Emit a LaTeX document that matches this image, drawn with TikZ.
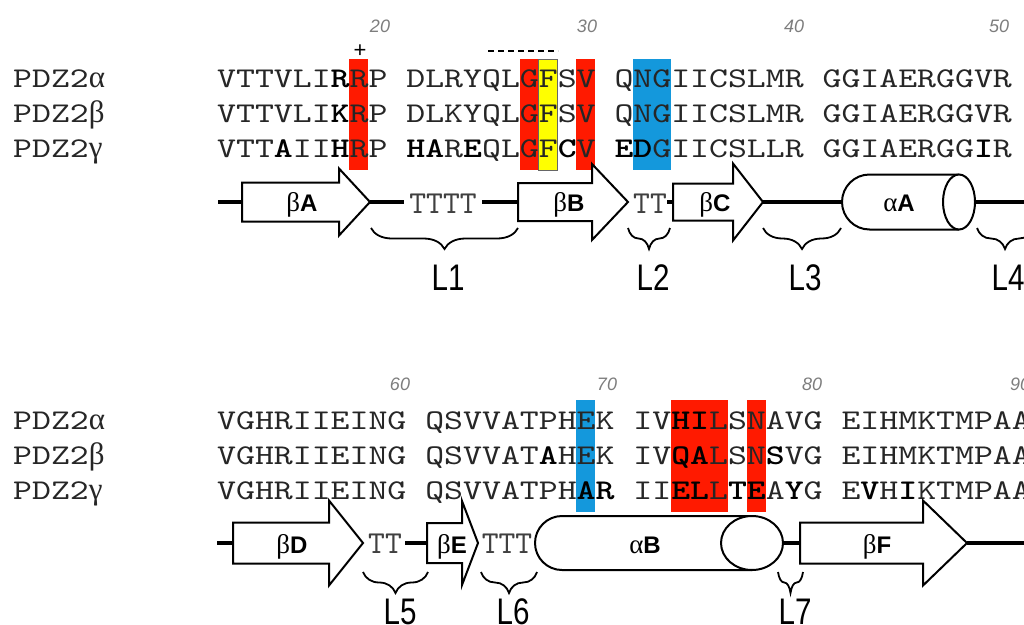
\documentclass[tikz,border=0pt]{standalone}
\usepackage{fontspec}
\setmainfont{Liberation Sans}
\newfontfamily\seqfont{lmmono10-regular.otf}[FakeStretch=1.26,BoldFont=lmmonolt10-bold.otf]
\newfontfamily\turnfont{lmmono10-regular.otf}
\newfontfamily\greekfont{Liberation Serif}
\newfontfamily\loopfont{Liberation Sans}[FakeStretch=0.8]
\usetikzlibrary{decorations.pathreplacing}

\definecolor{boxred}{RGB}{255,26,0}
\definecolor{boxblue}{RGB}{20,152,220}
\definecolor{boxyellow}{RGB}{255,255,0}
\definecolor{numgrey}{RGB}{125,125,125}

\newcommand{\cw}{18.92}
\newcommand{\res}[1]{{\bfseries\color{black}#1}}

\tikzset{
  seqtext/.style={anchor=base west, inner sep=0pt, text=black!85,
    font=\seqfont\fontsize{28.6}{30}\selectfont},
  resnum/.style={anchor=base, inner sep=0pt, text=numgrey,
    font=\itshape\fontsize{18}{20}\selectfont},
  strandbox/.style={draw, fill=white, line width=2pt, line join=miter},
  helixbox/.style={draw, fill=white, line width=2pt},
  coil/.style={line width=3.5pt},
  turnmark/.style={anchor=base, inner sep=0pt, text=black!75,
    font=\turnfont\fontsize{32}{34}\selectfont},
  ssename/.style={anchor=base, inner sep=0pt, font=\fontsize{24}{26}\selectfont},
  loopbrace/.style={decorate, decoration={brace, mirror, amplitude=21pt},
    line width=1.8pt},
  loopname/.style={anchor=base, inner sep=0pt,
    font=\loopfont\fontsize{37}{40}\selectfont},
}

\begin{document}
\begin{tikzpicture}[x=1pt,y=-1pt]
  \useasboundingbox (0,0) rectangle (1024,624);
  % coloured columns:
  \foreach \i/\n/\ya/\yb/\col in {7/1/59/170/boxred, 16/1/59/170/boxred,
      19/1/59/170/boxred, 22/2/59/170/boxblue, 19/1/400/512/boxblue,
      24/3/400/512/boxred, 28/1/400/512/boxred}
    \fill [\col] (217+\i*\cw,\ya) rectangle (217+\i*\cw+\n*\cw,\yb);
  \draw [fill=boxyellow, draw=black!60, line width=0.6pt]
    (217+17*\cw,59) rectangle (217+18*\cw,170);

  % first block of the alignment:
  \foreach \g/\yy/\sa/\sb/\sc/\sd [count=\r] in {
      α/87/VTTVLI\res{R}RP/DLRYQLGFSV/QNGIICSLMR/GGIAERGGVR,
      β/122/VTTVLI\res{K}RP/DLKYQLGFSV/QNGIICSLMR/GGIAERGGVR,
      γ/157/VTT\res{A}II\res{H}RP/\res{HA}R\res{E}QLGF\res{C}V/\res{ED}GIICSLLR/GGIAERGG\res{I}R} {
    \node [seqtext] (top\r) at (13,\yy) {PDZ2{\greekfont\fontsize{31}{31}\selectfont\g}};
    \node [seqtext] (top\r-a) at (217,\yy) {\sa};
    \node [seqtext] (top\r-b) at (217+10*\cw,\yy) {\sb};
    \node [seqtext] (top\r-c) at (217+21*\cw,\yy) {\sc};
    \node [seqtext] (top\r-d) at (217+32*\cw,\yy) {\sd};
  }
  % second block:
  \foreach \g/\yy/\sa/\sb/\sc/\sd [count=\r] in {
      α/429/VGHRIIEING/QSVVATPHEK/IV\res{HI}LSNAVG/EIHMKTMPAA,
      β/464/VGHRIIEING/QSVVAT\res{A}HEK/IV\res{QA}LSN\res{S}VG/EIHMKTMPAA,
      γ/499/VGHRIIEING/QSVVATPH\res{AR}/II\res{EL}L\res{TE}A\res{Y}G/E\res{V}H\res{I}KTMPAA} {
    \node [seqtext] (bot\r) at (13,\yy) {PDZ2{\greekfont\fontsize{31}{31}\selectfont\g}};
    \node [seqtext] (bot\r-a) at (217,\yy) {\sa};
    \node [seqtext] (bot\r-b) at (217+11*\cw,\yy) {\sb};
    \node [seqtext] (bot\r-c) at (217+22*\cw,\yy) {\sc};
    \node [seqtext] (bot\r-d) at (217+33*\cw,\yy) {\sd};
  }
  % numbering:
  \foreach \num/\xx/\yy in {20/380/32, 30/587/32, 40/794/32, 50/999/32,
      60/400/390, 70/607/390, 80/812/390, 90/1020/390}
    \node [resnum] (n\num) at (\xx,\yy) {\num};
  \node [inner sep=0pt, font=\fontsize{22}{22}\selectfont] (plus) at (360,51) {+};
  \draw [line width=1.5pt, dash pattern=on 6pt off 4pt] (488,51) -- (558,51);

  % coil:
  \foreach \xa/\xb/\yy in {218/242/202, 370/404/202, 482/518/202, 667/673/202,
      763/842/202, 975/1024/202, 217/233/543, 405/427/543, 784/800/543, 967/1024/543}
    \draw [coil] (\xa,\yy) -- (\xb,\yy);
  % strands:
  \foreach \xa/\xb/\xc/\yy/\hb/\hh in {242/339/370/202/19.5/33.5,
      518/592/628/202/19/38, 673/733/763/202/18.5/38.5, 233/329/363/543/20.5/42.5,
      427/462/478/543/20/42, 800/923/967/543/20.5/42.5}
    \draw [strandbox] (\xa,\yy-\hb) -- (\xb,\yy-\hb) -- (\xb,\yy-\hh) -- (\xc,\yy)
      -- (\xb,\yy+\hh) -- (\xb,\yy+\hb) -- (\xa,\yy+\hb) -- cycle;
  % helices:
  \draw [helixbox, rounded corners=27.5pt] (959,174.5) -- (842,174.5) -- (842,229.5) -- (959,229.5);
  \draw [helixbox] (959,202) ellipse [x radius=16, y radius=27.5];
  \draw [helixbox, rounded corners=27pt] (752,516) -- (535,516) -- (535,570) -- (752,570);
  \draw [helixbox] (752,543) ellipse [x radius=31, y radius=27];
  \foreach \xx/\yy/\g/\l [count=\k] in {302/211/β/A, 569/211/β/B, 715/211/β/C,
      899/211/α/A, 292/553/β/D, 452/553/β/E, 877/553/β/F, 645/553/α/B}
    \node [ssename] (sse\k) at (\xx,\yy) {{\greekfont\fontsize{27}{27}\selectfont\g}\textbf{\l}};
  % turns:
  \foreach \tx/\xx/\yy [count=\k] in {TTTT/443/213, TT/650/213, TT/385/553, TTT/507/553}
    \node [turnmark] (turn\k) at (\xx,\yy) {\tx};

  % loops:
  \foreach \xa/\xb/\yy/\l/\xl/\yl in {371/518/228/L1/448/290, 628/670/228/L2/653/290,
      763/841/228/L3/805/290, 977/1033/228/L4/1008/290, 363/428/572/L5/400/624,
      481/537/572/L6/513/624, 778/803/572/L7/795/624} {
    \draw [loopbrace] (\xa,\yy) -- (\xb,\yy);
    \node [loopname] (\l) at (\xl,\yl) {\l};
  }
\end{tikzpicture}
\end{document}
